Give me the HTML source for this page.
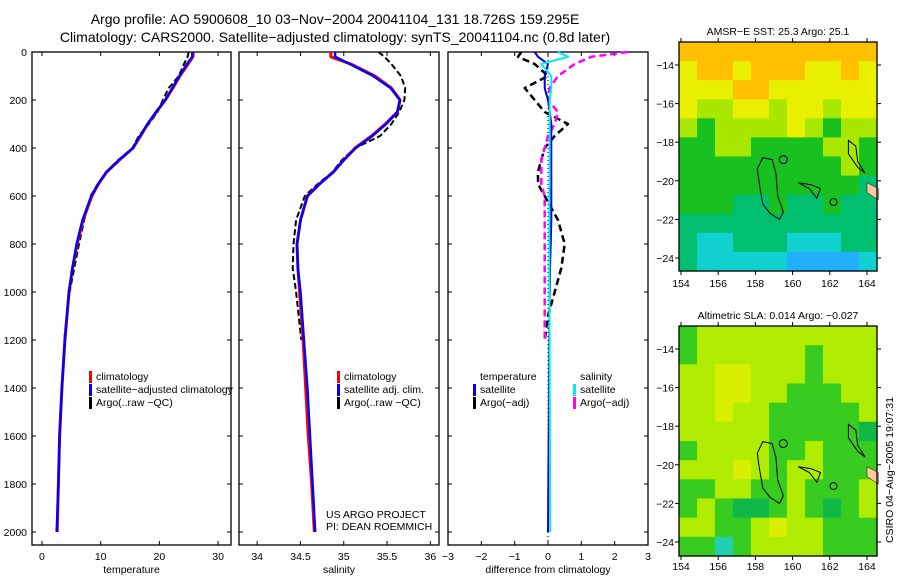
<!DOCTYPE html>
<html><head><meta charset="utf-8"><style>
html,body{margin:0;padding:0;background:#fff;}
svg{display:block;font-family:"Liberation Sans",sans-serif;}
text{font-size:10.5px;fill:#000;}
</style></head><body>
<svg id="fig" width="900" height="580" viewBox="0 0 900 580" xmlns="http://www.w3.org/2000/svg">
<text x="335" y="24" text-anchor="middle" style="font-size:14px">Argo profile: AO 5900608_10 03−Nov−2004 20041104_131 18.726S 159.295E</text>
<text x="335" y="42" text-anchor="middle" style="font-size:14px">Climatology: CARS2000. Satellite−adjusted climatology: synTS_20041104.nc (0.8d later)</text>
<g id="panels"></g>
<g id="maps"></g>
<text transform="translate(893,470) rotate(-90)" text-anchor="middle">CSIRO 04−Aug−2005 19:07:31</text>
</svg>
<script>
// ---- profile data ----
const depthT = [0,20,50,100,150,200,250,300,350,400,450,500,550,600,700,800,900,1000,1200,1400,1600,1800,2000];
const tempClim = [25.8,25.7,24.9,23.5,22.3,21.0,19.5,18.0,16.8,15.5,13.2,11.0,9.6,8.5,7.0,6.0,5.2,4.6,3.9,3.4,3.0,2.8,2.6];
const tempSat  = [25.6,25.6,24.7,23.4,22.2,21.0,19.4,18.0,16.7,15.5,13.1,11.0,9.6,8.4,6.9,5.9,5.2,4.6,3.9,3.4,3.0,2.8,2.5];
const depthArgo = [0,20,50,100,150,200,250,300,350,400,450,500,550,600,700,800,900,1000,1100,1200];
const tempArgo = [25.0,24.8,24.2,23.3,21.6,20.6,19.7,18.2,16.5,15.4,13.0,10.9,9.5,8.3,7.2,6.3,5.5,4.7,4.2,3.8];
const salClim = [34.85,34.85,35.08,35.36,35.55,35.65,35.62,35.48,35.32,35.13,35.0,34.88,34.72,34.58,34.50,34.46,34.47,34.49,34.53,34.56,34.59,34.63,34.66];
const salSat  = [34.9,34.9,35.07,35.34,35.54,35.65,35.62,35.49,35.33,35.14,35.0,34.88,34.72,34.58,34.50,34.46,34.47,34.50,34.54,34.58,34.61,34.64,34.67];
const salArgo = [35.4,35.47,35.55,35.66,35.71,35.70,35.64,35.55,35.42,35.13,34.98,34.87,34.70,34.55,34.45,34.42,34.41,34.45,34.48,34.51];
const dTempSat = [-0.4,-0.3,0.0,-0.1,-0.1,0.0,0.05,0.1,0.1,0.1,0.1,0.1,0.1,0.1,0.1,0.08,0.06,0.05,0.04,0.03,0.02,0.01,0.0];
const dSalSat  = [0.3,0.6,-0.2,0.1,0.1,0.05,0.05,0.05,0.05,0.05,0.05,0.05,0.05,0.04,0.04,0.04,0.04,0.04,0.05,0.05,0.06,0.06,0.07];
const dTempArgo = [-0.8,-0.9,-0.4,0.0,-0.7,-0.4,-0.1,0.6,0.2,-0.1,-0.2,-0.3,-0.3,-0.1,0.3,0.5,0.4,0.2,0.0,-0.1];
const dSalArgo  = [2.4,1.3,0.8,0.3,0.05,0.0,0.3,0.2,0.0,-0.1,-0.2,-0.2,-0.2,-0.1,-0.1,-0.1,-0.1,-0.1,-0.1,-0.1];
const depthTicks = [0,200,400,600,800,1000,1200,1400,1600,1800,2000];
const tempTicks = [0,10,20,30];
const salTicks = [34,34.5,35,35.5,36];
const diffTicks = [-3,-2,-1,0,1,2,3];

const NS="http://www.w3.org/2000/svg";
function mk(tag,attrs,parent){const e=document.createElementNS(NS,tag);for(const k in attrs)e.setAttribute(k,attrs[k]);parent.appendChild(e);return e;}
const yOf = d => 52 + d*0.24;
const panelsG=document.getElementById('panels');

function panel(name,x0,x1,dom0,dom1,ticks,xlabel,showY){
  const g=mk('g',{},panelsG);
  
  
  const sx=v=>x0+(v-dom0)/(dom1-dom0)*(x1-x0);
  const r=mk('rect',{x:x0,y:52,width:x1-x0,height:493,fill:'none',stroke:'#000','stroke-width':1.3},g);
  
  
  ticks.forEach(t=>{
    const x=sx(t);
    mk('line',{x1:x,y1:52,x2:x,y2:56,stroke:'#000'},g);
    mk('line',{x1:x,y1:545,x2:x,y2:541,stroke:'#000'},g);
    const tx=mk('text',{x:x,y:560,'text-anchor':'middle'},g);
    tx.textContent=String(t).replace('-','−');
    
    
  });
  depthTicks.forEach(d=>{
    const y=yOf(d);
    mk('line',{x1:x0,y1:y,x2:x0+4,y2:y,stroke:'#000'},g);
    mk('line',{x1:x1,y1:y,x2:x1-4,y2:y,stroke:'#000'},g);
    if(showY){const tx=mk('text',{x:27,y:y+4,'text-anchor':'end'},g);tx.textContent=String(d);
      
      }
  });
  const xl=mk('text',{x:(x0+x1)/2,y:573,'text-anchor':'middle'},g);
  xl.textContent=xlabel;
  
  
  return {g,sx};
}
function line(p,depths,vals,color,dash,w,name){
  const pts=depths.map((d,i)=>p.sx(vals[i]).toFixed(1)+','+yOf(d).toFixed(1)).join(' ');
  const l=mk('polyline',{points:pts,fill:'none',stroke:color,'stroke-width':w||2.5,'stroke-dasharray':dash||'none','stroke-linejoin':'round'},p.g);
  
  
}
function legend(g,x,y,items){
  items.forEach((it,i)=>{
    if(it[1]) mk('rect',{x:x,y:y+i*13-9,width:3,height:12,fill:it[1]},g);
    const t=mk('text',{x:x+7,y:y+i*13},g);t.textContent=it[0];
    
    
  });
}
const pT=panel('temperature-panel',32,231,-1.7,32.2,tempTicks,'temperature',true);
line(pT,depthArgo,tempArgo,'#000','6,3',2,'temp-argo-line');
line(pT,depthT,tempClim,'#f00',null,3,'temp-climatology-line');
line(pT,depthT,tempSat,'#00f',null,2.5,'temp-satellite-line');
legend(pT.g,89,380,[['climatology','#f00'],['satellite−adjusted climatology','#00f'],['Argo(..raw −QC)','#000']]);
const pS=panel('salinity-panel',239,439,33.79,36.1,salTicks,'salinity',false);
line(pS,depthArgo,salArgo,'#000','6,3',2,'sal-argo-line');
line(pS,depthT,salClim,'#f00',null,3,'sal-climatology-line');
line(pS,depthT,salSat,'#00f',null,2.5,'sal-satellite-line');
legend(pS.g,337,380,[['climatology','#f00'],['satellite adj. clim.','#00f'],['Argo(..raw −QC)','#000']]);
const c1=mk('text',{x:326,y:518},pS.g);c1.textContent='US ARGO PROJECT';


const c2=mk('text',{x:326,y:530},pS.g);c2.textContent='PI: DEAN ROEMMICH';


const pD=panel('difference-panel',448,648,-3,3,diffTicks,'difference from climatology',false);
mk('line',{x1:548,y1:52,x2:548,y2:545,stroke:'#000','stroke-dasharray':'1,3'},pD.g);
line(pD,depthArgo,dTempArgo,'#000','7,4',2.5,'temp-diff-argo-line');
line(pD,depthArgo,dSalArgo,'#f0f','7,4',2.5,'sal-diff-argo-line');
line(pD,depthT,dTempSat,'#00c',null,2,'temp-diff-satellite-line');
line(pD,depthT,dSalSat,'#0ee',null,2,'sal-diff-satellite-line');
legend(pD.g,473,380,[['temperature',null],['satellite','#00f'],['Argo(−adj)','#000']]);
legend(pD.g,573,380,[['salinity',null],['satellite','#0ee'],['Argo(−adj)','#f0f']]);

// ---- map data ----
const lonTicks=[154,156,158,160,162,164];
const latTicks=[-14,-16,-18,-20,-22,-24];
const sstGrid=[
[7,7,7,7,7,7,7,7,7,7,7],
[6,7,7,6,7,7,7,6,6,7,6],
[6,6,6,7,7,6,6,6,6,6,6],
[6,5,5,6,6,5,6,6,5,6,6],
[5,4,5,5,5,5,6,5,4,5,5],
[4,4,5,5,4,4,4,4,5,5,4],
[4,4,4,4,4,4,4,4,4,5,4],
[4,4,4,4,4,4,4,4,4,4,3],
[4,4,4,3,3,4,3,3,4,3,3],
[3,3,3,3,3,3,3,3,3,3,3],
[3,2,2,3,3,3,2,2,2,3,3],
[3,2,2,2,2,2,1,1,1,1,2]];
const slaGrid=[
[4,5,5,5,5,5,5,5,5,5,5],
[4,5,5,5,5,5,5,4,5,5,5],
[5,5,6,6,5,5,5,4,5,5,5],
[5,5,6,6,5,5,4,4,4,5,5],
[5,5,6,5,5,4,4,4,4,4,5],
[5,5,5,5,5,4,4,4,4,4,3],
[4,5,5,5,5,4,4,5,4,4,4],
[5,5,5,6,5,4,5,5,4,4,4],
[4,4,5,5,4,4,5,4,4,4,5],
[4,5,4,3,3,4,5,4,3,4,5],
[5,5,4,4,5,6,5,5,4,4,4],
[4,4,2,4,5,5,5,5,4,4,4]];
const sstColors=['#0060e0','#20b0ff','#10d0d0','#00c070','#18c020','#a8e800','#e8f000','#ffc000'];
const slaColors=['#00a0a0','#10c0c0','#20d0b0','#10b848','#38cc20','#b0ec00','#d8f000','#ffc000'];

const mapsG=document.getElementById('maps');
function drawMap(name,top,bottom,grid,colors,title){
  const g=mk('g',{},mapsG);
  
  
  const L=679,R=877;
  const lx=lon=>681+(lon-154)*18.6;
  const ly=lat=>(top+23)+(-14-lat)*19.3;
  const rows=grid.length, cols=grid[0].length;
  const ch=(bottom-top)/rows, cw=(R-L)/cols;
  grid.forEach((row,r)=>row.forEach((v,c)=>{
    const cell=mk('rect',{x:(L+c*cw).toFixed(1),y:(top+r*ch).toFixed(1),width:(cw+0.6).toFixed(1),height:(ch+0.6).toFixed(1),fill:colors[v]},g);
    
    
  }));
  const P=(lon,lat)=>lx(lon).toFixed(1)+','+ly(lat).toFixed(1);
  const coast=[
    'M'+P(158.4,-18.8)+' L'+P(158.9,-18.9)+' L'+P(159.1,-19.6)+' L'+P(159.2,-20.8)+' L'+P(159.5,-21.6)+' L'+P(159.3,-22.0)+' L'+P(158.8,-21.7)+' L'+P(158.4,-21.2)+' L'+P(158.2,-20.1)+' L'+P(158.1,-19.4)+' Z',
    'M'+P(160.3,-20.1)+' L'+P(161.0,-20.2)+' L'+P(161.5,-20.4)+' L'+P(161.3,-20.9)+' L'+P(160.9,-20.4)+' Z',
    'M'+P(163.0,-17.9)+' L'+P(163.4,-18.2)+' L'+P(163.5,-19.0)+' L'+P(163.9,-19.6)+' L'+P(163.5,-19.3)+' L'+P(163.0,-18.6)+' Z',
  ];
  coast.forEach(dd=>{const p=mk('path',{d:dd,fill:'none',stroke:'#000','stroke-width':1},g);
    
    });
  mk('circle',{cx:lx(159.5),cy:ly(-18.9),r:4,fill:'none',stroke:'#000'},g);
  mk('circle',{cx:lx(162.2),cy:ly(-21.1),r:3.5,fill:'none',stroke:'#000'},g);
  const nc=mk('path',{d:'M'+P(164.0,-20.1)+' L'+P(164.6,-20.4)+' L'+P(164.6,-21.0)+' L'+P(164.0,-20.6)+' Z',fill:'#ffc8a0',stroke:'#000','stroke-width':0.5},g);
  
  
  const fr=mk('rect',{x:L,y:top,width:R-L,height:bottom-top,fill:'none',stroke:'#000','stroke-width':1.3},g);
  
  
  lonTicks.forEach(lon=>{const x=lx(lon);
    mk('line',{x1:x,y1:bottom,x2:x,y2:bottom+4,stroke:'#000'},g);
    mk('line',{x1:x,y1:top,x2:x,y2:top-4,stroke:'#000'},g);
    const t=mk('text',{x:x,y:name==='sla-map'?570:bottom+16,'text-anchor':'middle'},g);t.textContent=String(lon);
    
    
  });
  latTicks.forEach(lat=>{const y=ly(lat);
    mk('line',{x1:L,y1:y,x2:L-4,y2:y,stroke:'#000'},g);
    mk('line',{x1:R,y1:y,x2:R+4,y2:y,stroke:'#000'},g);
    const t=mk('text',{x:674,y:y+4,'text-anchor':'end'},g);t.textContent=String(lat).replace('-','−');
    
    
  });
  const tt=mk('text',{x:778,y:top-7,'text-anchor':'middle',style:'font-size:10.5px'},g);tt.textContent=title;
  
  
}
drawMap('sst-map',42,271,sstGrid,sstColors,'AMSR−E SST: 25.3 Argo: 25.1');
drawMap('sla-map',326,556,slaGrid,slaColors,'Altimetric SLA: 0.014 Argo: −0.027');
</script>
</body></html>
